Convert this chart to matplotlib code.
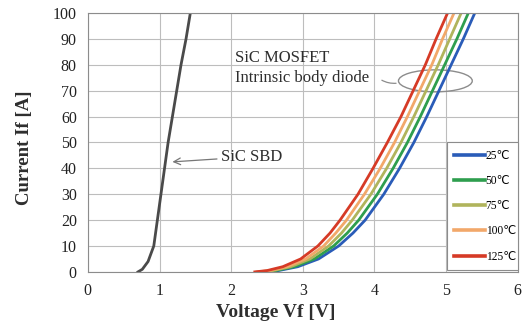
import matplotlib
matplotlib.use("Agg")
import matplotlib.pyplot as plt
from matplotlib.patches import Ellipse
from matplotlib.lines import Line2D

plt.rcParams['font.family'] = ['Liberation Serif', 'DejaVu Sans']

# ---- data ----
sbd_current = [0, 1, 4, 10, 20, 30, 40, 50, 60, 70, 80, 90, 100]
sbd_vf = [0.70, 0.76, 0.84, 0.92, 0.97, 1.02, 1.07, 1.12, 1.18, 1.24, 1.30, 1.37, 1.43]

mos_current = [0, 0.5, 2, 5, 10, 15, 20, 30, 40, 50, 60, 70, 80, 90, 100]
vf_125 = [2.33, 2.50, 2.72, 2.97, 3.21, 3.38, 3.52, 3.77, 3.98, 4.18, 4.37, 4.54, 4.71, 4.86, 5.02]
vf_100 = [2.36, 2.54, 2.78, 3.04, 3.29, 3.46, 3.61, 3.86, 4.08, 4.28, 4.46, 4.63, 4.80, 4.95, 5.11]
vf_75 = [2.39, 2.58, 2.83, 3.10, 3.36, 3.54, 3.69, 3.95, 4.17, 4.37, 4.55, 4.72, 4.89, 5.05, 5.21]
vf_50 = [2.42, 2.62, 2.88, 3.16, 3.43, 3.62, 3.78, 4.04, 4.26, 4.46, 4.64, 4.81, 4.98, 5.15, 5.31]
vf_25 = [2.45, 2.66, 2.93, 3.22, 3.50, 3.70, 3.87, 4.13, 4.35, 4.55, 4.73, 4.90, 5.07, 5.24, 5.40]

temp_labels = ['25℃', '50℃', '75℃', '100℃', '125℃']
temp_colors = ['#2a5cb8', '#2e9e4e', '#b0b45c', '#f2a86a', '#d63a26']

x_ticks = [0, 1, 2, 3, 4, 5, 6]
y_ticks = [0, 10, 20, 30, 40, 50, 60, 70, 80, 90, 100]

# ---- figure ----
fig = plt.figure(figsize=(5.23, 3.26), dpi=100)
ax = fig.add_axes([0.168, 0.166, 0.822, 0.794])

ax.set_xlim(0, 6)
ax.set_ylim(0, 100)
ax.set_xticks(x_ticks)
ax.set_yticks(y_ticks)
ax.grid(True, color='#bdbdbd', linewidth=0.8)
ax.set_axisbelow(True)
for s in ax.spines.values():
    s.set_color('#8c8c8c')
    s.set_linewidth(0.8)
ax.tick_params(length=0, labelsize=11.5, pad=8, colors='#222222')

# SBD curve
ax.plot(sbd_vf, sbd_current, color='#4a4a4a', linewidth=2.0)

# MOSFET body diode curves
series = [vf_25, vf_50, vf_75, vf_100, vf_125]
for vf, c in zip(series, temp_colors):
    ax.plot(vf, mos_current, color=c, linewidth=2.0)

# annotations
txt_color = '#2e2e2e'
ax.annotate('SiC SBD', xy=(1.18, 42.5), xytext=(1.86, 44.5),
            fontsize=12, color=txt_color, va='center', ha='left',
            arrowprops=dict(arrowstyle='->', color='#777777', lw=0.9,
                            shrinkA=1, shrinkB=0))
ax.text(2.06, 82.6, 'SiC MOSFET', fontsize=12, color=txt_color, va='center', ha='left')
ax.text(2.06, 74.9, 'Intrinsic body diode', fontsize=12, color=txt_color,
        va='center', ha='left')
ax.add_patch(Ellipse((4.85, 73.8), 1.03, 8.5, fill=False, edgecolor='#8c8c8c', lw=1.0))
ax.annotate('', xy=(4.34, 73.0), xytext=(4.07, 74.6),
            arrowprops=dict(arrowstyle='-', color='#8c8c8c', lw=0.9,
                            connectionstyle='arc3,rad=0.2'))

# legend
handles = [Line2D([0], [0], color=c, lw=2.6) for c in temp_colors]
leg = ax.legend(handles, temp_labels, loc='upper left',
                bbox_to_anchor=(0.835, 0.0, 0.165, 0.50), mode='expand',
                fontsize=8.3, frameon=True, fancybox=False, borderaxespad=0,
                handlelength=2.7, handletextpad=0.05, labelspacing=1.15,
                borderpad=0.62)
leg.get_frame().set_edgecolor('#8c8c8c')
leg.get_frame().set_linewidth(0.8)
leg.get_frame().set_facecolor('white')
leg.get_frame().set_alpha(1)

ax.set_xlabel('Voltage Vf [V]', fontsize=14, fontweight='bold', color=txt_color, labelpad=1)
ax.xaxis.set_label_coords(0.437, -0.125)
ax.set_ylabel('Current If [A]', fontsize=13.5, fontweight='bold', color=txt_color)
ax.yaxis.set_label_coords(-0.128, 0.48)

fig.savefig('out.png', dpi=100)
